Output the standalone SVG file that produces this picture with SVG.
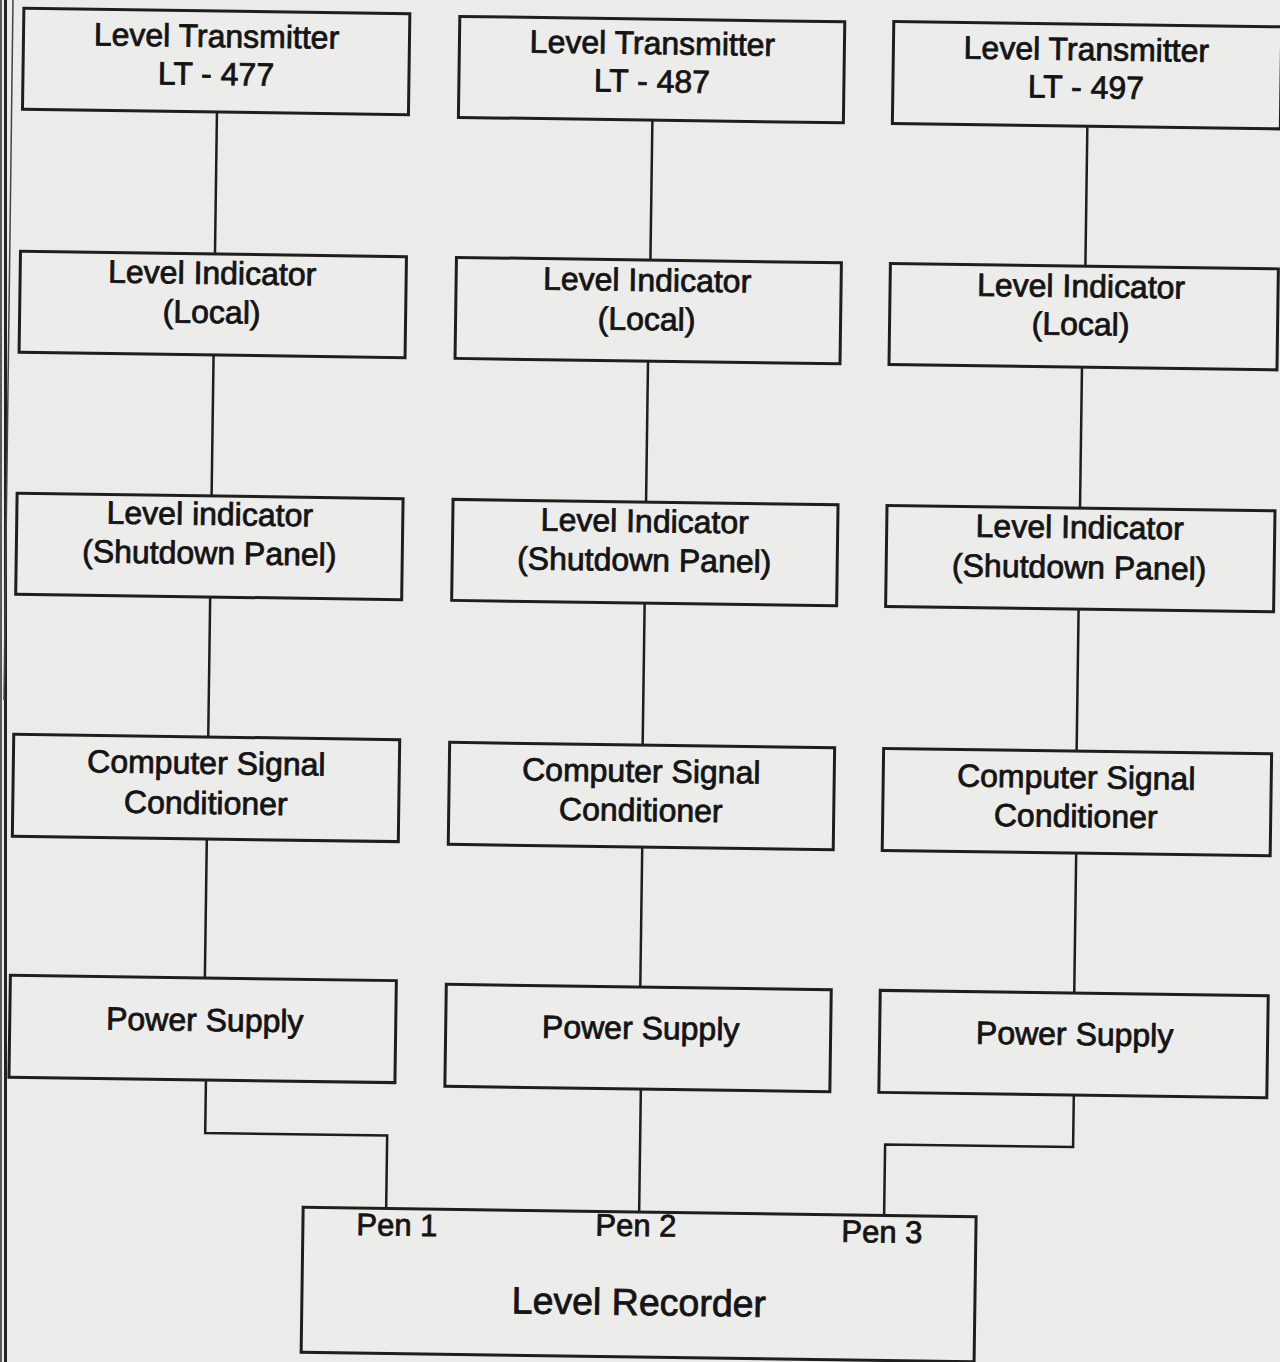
<svg xmlns="http://www.w3.org/2000/svg" width="1280" height="1362" viewBox="0 0 1280 1362">
<style>
.bg{fill:#ebebe9}
.box{fill:#ececea;stroke:#1e1e1e;stroke-width:3}
.t{font-family:"Liberation Sans",Arial,sans-serif;font-size:32px;fill:#141414;stroke:#141414;stroke-width:0.8;text-anchor:middle}
.pen{font-size:31px}
.big{font-size:37.5px}
.wire{fill:none;stroke:#1e1e1e;stroke-width:2.5}
</style>
<rect class="bg" x="0" y="0" width="1280" height="1362"/>
<rect x="0" y="0" width="2" height="1362" fill="#5a5a5a"/>
<rect x="4" y="0" width="3" height="1362" fill="#222"/>
<line x1="13" y1="0" x2="4" y2="700" stroke="#444" stroke-width="1.5"/>
<g transform="rotate(0.8)">
<g id="connectors">
<line class="wire" x1="218.5" y1="110" x2="218.5" y2="251"/>
<line class="wire" x1="218.5" y1="352" x2="218.5" y2="493"/>
<line class="wire" x1="218.5" y1="594" x2="218.5" y2="734"/>
<line class="wire" x1="218.5" y1="836" x2="218.5" y2="975"/>
<polyline class="wire" points="221,1077 221,1130 403,1130 403,1203"/>
<line class="wire" x1="654" y1="111" x2="654" y2="251"/>
<line class="wire" x1="653" y1="352" x2="653" y2="493"/>
<line class="wire" x1="653" y1="594" x2="653" y2="736"/>
<line class="wire" x1="654" y1="838" x2="654" y2="978"/>
<line class="wire" x1="656" y1="1080" x2="656" y2="1203"/>
<line class="wire" x1="1089" y1="111" x2="1089" y2="251"/>
<line class="wire" x1="1087" y1="352" x2="1087" y2="493"/>
<line class="wire" x1="1087" y1="594" x2="1087" y2="736"/>
<line class="wire" x1="1088" y1="838" x2="1088" y2="978"/>
<polyline class="wire" points="1089,1080 1089,1132 901,1132 901,1203"/>
</g>
<g id="lt477"><rect class="box" x="24" y="8" width="386" height="101"/>
<text class="t" x="217" y="44">Level Transmitter</text><text class="t" x="217" y="82">LT - 477</text></g>
<g id="lt487"><rect class="box" x="460" y="10" width="385" height="101"/>
<text class="t" x="653" y="45">Level Transmitter</text><text class="t" x="653" y="83">LT - 487</text></g>
<g id="lt497"><rect class="box" x="894" y="9" width="388" height="102"/>
<text class="t" x="1087" y="45">Level Transmitter</text><text class="t" x="1087" y="83">LT - 497</text></g>
<g id="li477"><rect class="box" x="24" y="251" width="386" height="101"/>
<text class="t" x="216" y="281">Level Indicator</text><text class="t" x="216" y="320">(Local)</text></g>
<g id="li487"><rect class="box" x="460" y="251" width="385" height="101"/>
<text class="t" x="651" y="282">Level Indicator</text><text class="t" x="651" y="321">(Local)</text></g>
<g id="li497"><rect class="box" x="894" y="251" width="388" height="101"/>
<text class="t" x="1085" y="282">Level Indicator</text><text class="t" x="1085" y="320">(Local)</text></g>
<g id="sd477"><rect class="box" x="24" y="493" width="386" height="101"/>
<text class="t" x="217" y="522">Level indicator</text><text class="t" x="217" y="561">(Shutdown Panel)</text></g>
<g id="sd487"><rect class="box" x="460" y="493" width="385" height="101"/>
<text class="t" x="652" y="523">Level Indicator</text><text class="t" x="652" y="562">(Shutdown Panel)</text></g>
<g id="sd497"><rect class="box" x="894" y="493" width="388" height="101"/>
<text class="t" x="1087" y="523">Level Indicator</text><text class="t" x="1087" y="563">(Shutdown Panel)</text></g>
<g id="csc477"><rect class="box" x="24" y="734" width="386" height="102"/>
<text class="t" x="217" y="771">Computer Signal</text><text class="t" x="217" y="811">Conditioner</text></g>
<g id="csc487"><rect class="box" x="460" y="736" width="385" height="102"/>
<text class="t" x="652" y="773">Computer Signal</text><text class="t" x="652" y="812">Conditioner</text></g>
<g id="csc497"><rect class="box" x="894" y="736" width="388" height="102"/>
<text class="t" x="1087" y="773">Computer Signal</text><text class="t" x="1087" y="812">Conditioner</text></g>
<g id="ps477"><rect class="box" x="24" y="975" width="386" height="102"/>
<text class="t" x="219" y="1028">Power Supply</text></g>
<g id="ps487"><rect class="box" x="460" y="978" width="385" height="102"/>
<text class="t" x="655" y="1030">Power Supply</text></g>
<g id="ps497"><rect class="box" x="894" y="978" width="388" height="102"/>
<text class="t" x="1089" y="1030">Power Supply</text></g>
<g id="recorder"><rect class="box" x="320" y="1203" width="673" height="145"/>
<text class="t pen" x="414" y="1230">Pen 1</text>
<text class="t pen" x="653" y="1227">Pen 2</text>
<text class="t pen" x="899" y="1230">Pen 3</text>
<text class="t big" x="657" y="1306">Level Recorder</text></g>
</g>
</svg>
